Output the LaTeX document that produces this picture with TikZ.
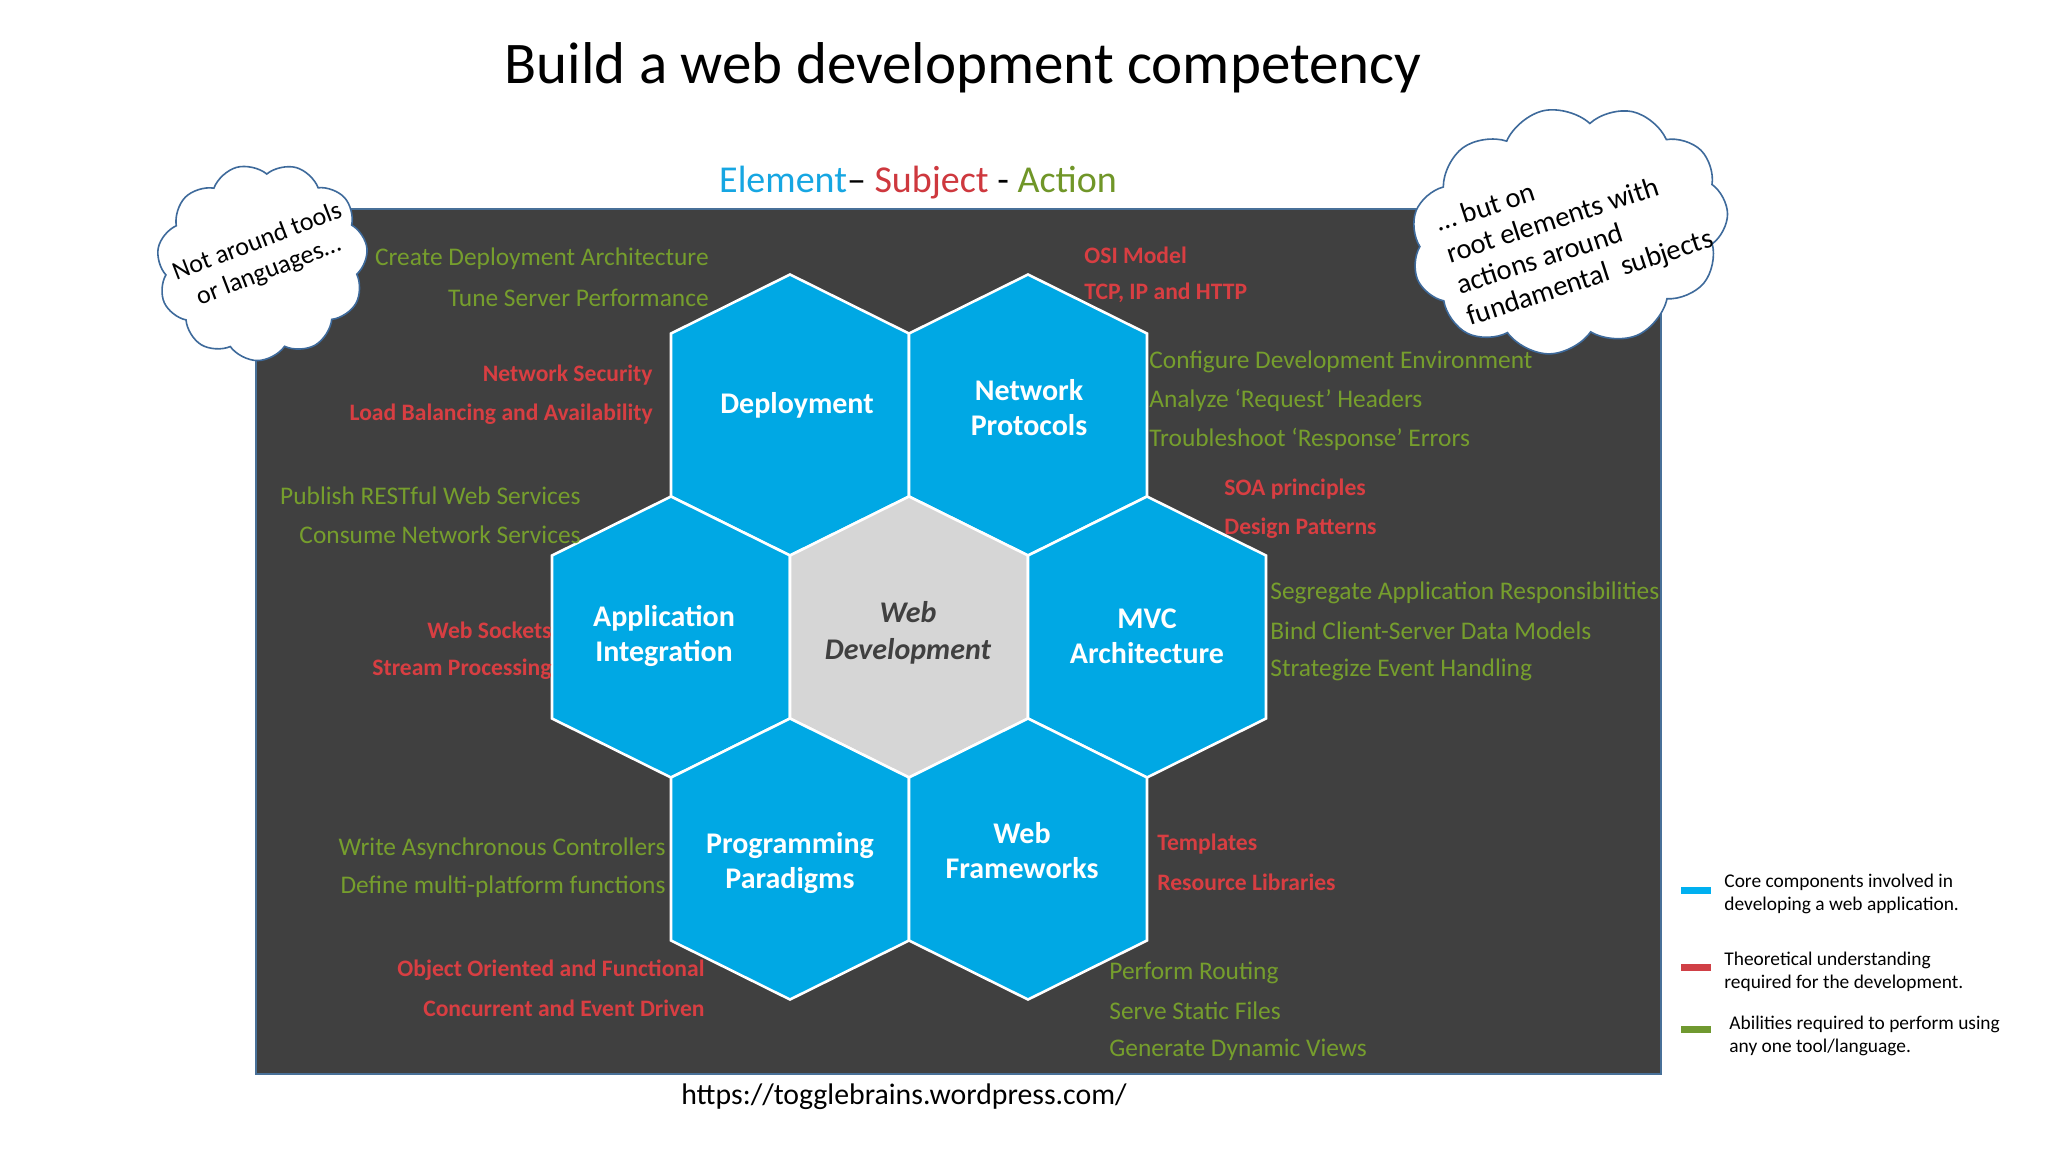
\documentclass[tikz,border=0pt]{standalone}
\usepackage{fontspec}
\setmainfont{Carlito}
\usetikzlibrary{shapes.symbols}
\definecolor{hexblue}{RGB}{0,168,228}
\definecolor{hexgrey}{RGB}{214,214,214}
\definecolor{darkbg}{RGB}{64,64,64}
\definecolor{framecol}{RGB}{72,112,152}
\definecolor{txtred}{RGB}{216,62,66}
\definecolor{txtgreen}{RGB}{118,158,45}
\definecolor{subblue}{RGB}{22,166,226}
\definecolor{subred}{RGB}{206,56,62}
\definecolor{subgreen}{RGB}{112,150,40}
\definecolor{legblue}{RGB}{0,176,240}
\definecolor{legred}{RGB}{208,64,70}
\definecolor{leggreen}{RGB}{112,153,48}
\definecolor{cloudline}{RGB}{62,106,155}
\definecolor{wdtext}{RGB}{64,64,64}
\newcommand{\hexat}[3]{%
  \path[#3] (#1,#2-140.5) -- (#1+119,#2-81.5) -- (#1+119,#2+81.5) -- (#1,#2+140.5)
    -- (#1-119,#2+81.5) -- (#1-119,#2-81.5) -- cycle;}
\begin{document}
\begin{tikzpicture}[x=0.5pt,y=-0.5pt,
  hexcell/.style={fill=hexblue, draw=white, line width=1.3pt, line join=miter},
  hexcore/.style={fill=hexgrey, draw=white, line width=1.3pt, line join=miter},
  hexlabel/.style={text=white, font=\fontsize{15}{17.5}\selectfont\bfseries, align=center, inner sep=0pt},
  actR/.style={text=txtgreen, font=\fontsize{12.7}{15}\selectfont, anchor=east, inner sep=0pt},
  actL/.style={text=txtgreen, font=\fontsize{12.7}{15}\selectfont, anchor=west, inner sep=0pt},
  subjR/.style={text=txtred, font=\fontsize{11.8}{15}\selectfont\bfseries, anchor=east, inner sep=0pt},
  subjL/.style={text=txtred, font=\fontsize{11.8}{15}\selectfont\bfseries, anchor=west, inner sep=0pt},
  cloudbox/.style={cloud, cloud puffs=11, cloud puff arc=110, draw=cloudline, fill=white, line width=0.8pt},
  legbar/.style={minimum width=15pt, minimum height=3.5pt, inner sep=0pt},
  legtext/.style={anchor=west, align=left, inner sep=0pt, font=\fontsize{9.7}{11.5}\selectfont}]
\useasboundingbox (0,0) rectangle (2048,1152);
\fill[white] (0,0) rectangle (2048,1152);

% title and subtitle
\node[font=\fontsize{29.5}{36}\selectfont, inner sep=0pt] (title) at (963,68) {Build a web development competency};
\node[font=\fontsize{19}{22}\selectfont, inner sep=0pt] (subtitle) at (918,183)
  {\textcolor{subblue}{Element}\textcolor{black}{–} \textcolor{subred}{Subject} \textcolor{black}{-} \textcolor{subgreen}{Action}};

% dark panel
\draw[framecol, line width=1.4pt, fill=darkbg] (256,209) rectangle (1661,1074);

% hexagons
\hexat{790}{415}{hexcell}
\hexat{1028}{415}{hexcell}
\hexat{671}{637}{hexcell}
\hexat{909}{637}{hexcore}
\hexat{1147}{637}{hexcell}
\hexat{790}{859}{hexcell}
\hexat{1028}{859}{hexcell}

\node[hexlabel] (deploy) at (797,405) {Deployment};
\node[hexlabel] (netproto) at (1029,408) {Network\\Protocols};
\node[hexlabel] (appint) at (664,636) {Application\\Integration};
\node[hexlabel, text=wdtext, font=\fontsize{15}{18.5}\selectfont\bfseries\itshape] (webdev) at (908,633) {Web\\Development};
\node[hexlabel] (mvc) at (1147,636) {MVC\\Architecture};
\node[hexlabel] (progpar) at (790,863) {Programming\\Paradigms};
\node[hexlabel] (webfw) at (1022,851) {Web\\Frameworks};

% deployment texts
\node[actR] (a1) at (709,259) {Create Deployment Architecture};
\node[actR] (a2) at (709,298) {Tune Server Performance};
\node[subjR] (s1) at (653,375) {Network Security};
\node[subjR] (s2) at (653,414) {Load Balancing and Availability};
% application integration texts
\node[actR] (a3) at (581,496) {Publish RESTful Web Services};
\node[actR] (a4) at (581,535) {Consume Network Services};
\node[subjR] (s3) at (552,630) {Web Sockets};
\node[subjR] (s4) at (552,669) {Stream Processing};
% programming paradigms texts
\node[actR] (a5) at (666,849) {Write Asynchronous Controllers};
\node[actR] (a6) at (666,887) {Define multi-platform functions};
\node[subjR] (s5) at (705,970) {Object Oriented and Functional};
\node[subjR] (s6) at (705,1008) {Concurrent and Event Driven};
% network protocols texts
\node[subjL] (s7) at (1084,255) {OSI Model};
\node[subjL] (s8) at (1084,293) {TCP, IP and HTTP};
\node[actL] (a7) at (1149,362) {Configure Development Environment};
\node[actL] (a8) at (1149,400) {Analyze ‘Request’ Headers};
\node[actL] (a9) at (1149,439) {Troubleshoot ‘Response’ Errors};
% mvc texts
\node[subjL] (s9) at (1224,489) {SOA principles};
\node[subjL] (s10) at (1224,528) {Design Patterns};
\node[actL] (a10) at (1270,593) {Segregate Application Responsibilities};
\node[actL] (a11) at (1270,631) {Bind Client-Server Data Models};
\node[actL] (a12) at (1270,670) {Strategize Event Handling};
% web frameworks texts
\node[subjL] (s11) at (1157,844) {Templates};
\node[subjL] (s12) at (1157,882) {Resource Libraries};
\node[actL] (a13) at (1109,973) {Perform Routing};
\node[actL] (a14) at (1109,1011) {Serve Static Files};
\node[actL] (a15) at (1109,1050) {Generate Dynamic Views};

% clouds
\node[cloudbox, minimum width=106pt, minimum height=98pt, rotate=15] (cloudL) at (262,262) {};
\node[rotate=21, align=center, inner sep=0pt, font=\fontsize{13}{15.5}\selectfont] (cloudLtext) at (263,257) {Not around tools\\or languages…};
\node[cloudbox, minimum width=160pt, minimum height=122pt, rotate=12] (cloudR) at (1569,230) {};
\node[rotate=18, align=left, inner sep=0pt, font=\fontsize{14.3}{16.5}\selectfont] (cloudRtext) at (1575,232) {… but on\\root elements with\\actions around\\fundamental\ \ subjects};

% url
\node[font=\fontsize{14.9}{18}\selectfont, inner sep=0pt] (url) at (904,1097) {https://togglebrains.wordpress.com/};

% legend
\node[legbar, fill=legblue] (barA) at (1696,890) {};
\node[legtext] (legA) at (1724,894) {Core components involved in\\developing a web application.};
\node[legbar, fill=legred] (barB) at (1696,967) {};
\node[legtext] (legB) at (1724,972) {Theoretical understanding\\required for the development.};
\node[legbar, fill=leggreen] (barC) at (1696,1029) {};
\node[legtext] (legC) at (1729,1036) {Abilities required to perform using\\any one tool/language.};
\end{tikzpicture}
\end{document}
